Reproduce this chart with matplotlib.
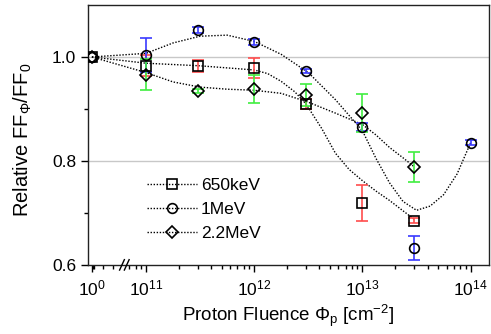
import numpy as np
import matplotlib
matplotlib.use("Agg")
import matplotlib.pyplot as plt
from matplotlib.lines import Line2D
from matplotlib.transforms import blended_transform_factory

plt.rcParams['font.family'] = ['Liberation Sans', 'DejaVu Sans']
plt.rcParams['mathtext.fontset'] = 'custom'
plt.rcParams['mathtext.rm'] = 'Liberation Sans'
plt.rcParams['mathtext.it'] = 'Liberation Sans:italic'

# fluence values [cm^-2]; 1 stands for the unirradiated reference
fluence = [1, 1e11, 3e11, 1e12, 3e12, 1e13, 3e13, 1e14]

# measured points
ff_650kev = [1.0, 0.983, 0.983, 0.979, 0.910, 0.719, 0.685]
err_650kev = [0.0, 0.020, 0.012, 0.019, 0.010, 0.035, 0.005]
ff_1mev = [1.0, 1.004, 1.052, 1.029, 0.973, 0.865, 0.633, 0.835]
err_1mev = [0.0, 0.032, 0.005, 0.005, 0.004, 0.008, 0.023, 0.005]
ff_22mev = [1.0, 0.966, 0.935, 0.938, 0.927, 0.892, 0.789]
err_22mev = [0.0, 0.030, 0.004, 0.027, 0.021, 0.037, 0.029]

# guide-to-the-eye curves (axis position, value)
fit_650kev_x = [10.5, 11.0, 11.5, 12.0, 12.125, 12.25, 12.375, 12.477, 12.625,
                12.75, 12.875, 13.0, 13.125, 13.25, 13.375, 13.477]
fit_650kev_y = [1.0, 0.988, 0.983, 0.975, 0.968, 0.953, 0.933, 0.910, 0.862,
                0.815, 0.784, 0.762, 0.742, 0.724, 0.704, 0.688]
fit_1mev_x = [10.5, 11.0, 11.25, 11.5, 11.75, 12.0, 12.25, 12.5, 12.75, 13.0,
              13.125, 13.25, 13.375, 13.5, 13.625, 13.75, 13.875, 14.0]
fit_1mev_y = [1.0, 1.007, 1.027, 1.040, 1.042, 1.030, 1.005, 0.970, 0.918, 0.858,
              0.805, 0.758, 0.722, 0.705, 0.713, 0.735, 0.775, 0.835]
fit_22mev_x = [10.5, 11.0, 11.25, 11.5, 11.75, 12.0, 12.25, 12.5, 12.75, 13.0,
               13.125, 13.25, 13.375, 13.477]
fit_22mev_y = [1.0, 0.970, 0.952, 0.942, 0.938, 0.936, 0.930, 0.913, 0.892, 0.870,
               0.850, 0.826, 0.806, 0.789]

labels = ['650keV', '1MeV', '2.2MeV']
markers = ['s', 'o', 'D']
err_colors = ['#ff4d4d', '#3a3aff', '#40ee40']

ZERO_POS = 10.5   # where the unirradiated point sits on the broken axis
BREAK_POS = 10.8


def axis_pos(f):
    f = np.asarray(f, dtype=float)
    return np.where(f < 1e5, ZERO_POS + np.log10(f), np.log10(f))


fig = plt.figure(figsize=(4.91, 3.34), dpi=100)
ax = fig.add_axes([0.179, 0.207, 0.817, 0.778])

ax.axhline(1.0, color='#c8c8c8', lw=1.0, zorder=0)
ax.axhline(0.8, color='#c8c8c8', lw=1.0, zorder=0)

fits = [(fit_650kev_x, fit_650kev_y), (fit_1mev_x, fit_1mev_y), (fit_22mev_x, fit_22mev_y)]
for fx, fy in fits:
    ax.plot(fx, fy, ls=(0, (1, 1.2)), color='black', lw=1.0, zorder=2)

series = [(ff_650kev, err_650kev), (ff_1mev, err_1mev), (ff_22mev, err_22mev)]
for (vals, errs), m, c in zip(series, markers, err_colors):
    xs = axis_pos(fluence[:len(vals)])
    ax.errorbar(xs[1:], vals[1:], yerr=errs[1:], fmt='none', ecolor=c,
                elinewidth=1.2, capsize=4, capthick=1.2, zorder=3)
    ms = 6 if m == 'D' else 7
    ax.plot(xs, vals, ls='none', marker=m, ms=ms, mfc='none', mec='black',
            mew=1.2, zorder=4)

ax.set_xlim(10.463, 14.17)
ax.set_ylim(0.6, 1.1)

major_pos = [ZERO_POS, 11, 12, 13, 14]
major_lab = ['10$^{0}$', '10$^{11}$', '10$^{12}$', '10$^{13}$', '10$^{14}$']
ax.set_xticks(major_pos)
ax.set_xticklabels(major_lab)
minor = [ZERO_POS + np.log10(k) * 0.04 for k in (2, 3)]
minor += [10 + np.log10(k) for k in (4, 5, 6, 7, 8, 9)]
for d in (11, 12, 13):
    minor += [d + np.log10(k) for k in range(2, 10)]
minor = [p for p in minor if abs(p - BREAK_POS) > 0.04]
ax.set_xticks(minor, minor=True)

ax.set_yticks([0.6, 0.8, 1.0])
ax.set_yticklabels(['0.6', '0.8', '1.0'])
ax.set_yticks([0.7, 0.9], minor=True)

ax.tick_params(axis='both', which='major', direction='out', length=5, width=1,
               labelsize=12.5, top=False, right=False)
ax.tick_params(axis='both', which='minor', direction='out', length=3, width=1,
               top=False, right=False)
ax.tick_params(axis='x', pad=5)
for s in ax.spines.values():
    s.set_linewidth(1.0)
    s.set_color('#222222')

# axis break mark
tr = blended_transform_factory(ax.transData, ax.transAxes)
for off in (-0.022, 0.022):
    ax.plot([BREAK_POS + off - 0.022, BREAK_POS + off + 0.022], [-0.02, 0.02],
            transform=tr, color='black', lw=1.0, clip_on=False, zorder=5)

ax.set_xlabel('Proton Fluence Φ$_\\mathrm{p}$ [cm$^{-2}$]', fontsize=13.5, labelpad=3)
ax.set_ylabel('Relative FF$_{\\mathrm{Φ}}$/FF$_{\\mathrm{0}}$', fontsize=14.5)
ax.yaxis.set_label_coords(-0.135, 0.48)

handles = [Line2D([], [], ls=(0, (1, 1.2)), color='black', lw=1.0, marker=m,
                  ms=(6 if m == 'D' else 7), mfc='none', mec='black', mew=1.2)
           for m in markers]
ax.legend(handles, labels, loc='upper left', bbox_to_anchor=(0.147, 0.335),
          frameon=False, fontsize=12.5, handlelength=2.9, handletextpad=0.2,
          labelspacing=0.52, borderpad=0, borderaxespad=0)

fig.savefig('out.png', dpi=100)
